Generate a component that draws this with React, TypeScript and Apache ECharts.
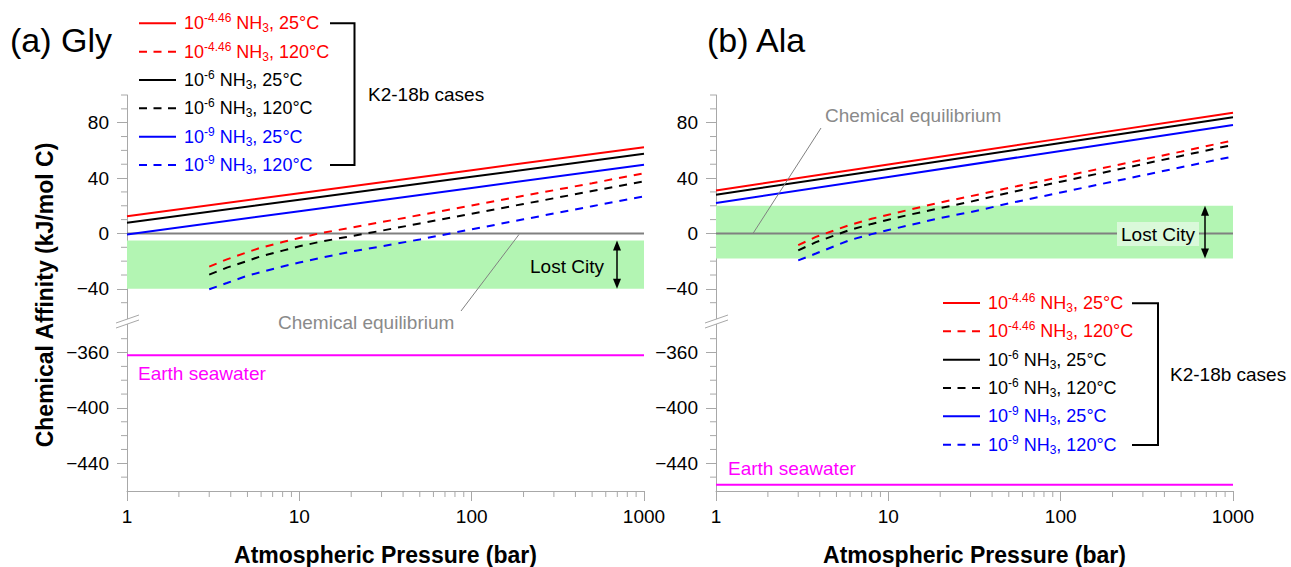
import React, { useEffect, useRef } from "react";
import * as echarts from "echarts";

// ---------- data ----------
const pressuresSolid = [1, 10, 100, 1000];
const pressuresHot = [3, 3.8, 5, 6, 8, 10, 13, 20, 30, 50, 100, 200, 500, 1000];

const glyRed25 = [12.4, 29.0, 45.7, 62.3];
const glyBlack25 = [7.7, 24.3, 40.9, 57.5];
const glyBlue25 = [-0.7, 16.1, 32.9, 49.6];
const glyRed120 = [-24, -18.7, -13.5, -10.2, -6.2, -3.3, 0, 4.2, 8.2, 13.3, 20.2, 27.2, 36.3, 43.5];
const glyBlack120 = [-29.7, -24.7, -19.8, -16.4, -12.4, -9.3, -6.2, -1.9, 2.0, 7.2, 14.3, 21.3, 30.6, 37.6];
const glyBlue120 = [-40.3, -35.8, -30.5, -27.9, -23.8, -21, -17.9, -13.1, -9.3, -4.3, 3, 10.2, 19.7, 26.8];

const alaRed25 = [31.1, 49.8, 68.5, 87.2];
const alaBlack25 = [28, 46.6, 65.3, 83.9];
const alaBlue25 = [22, 40.8, 59.6, 78.4];
const alaRed120 = [-8.4, -2.5, 2.8, 6.2, 10.6, 13.5, 16.9, 22.4, 26.9, 32.9, 40.8, 48.7, 59.1, 67.2];
const alaBlack120 = [-12.2, -6.3, -0.9, 2.6, 6.9, 9.9, 13.3, 18.3, 22.9, 29.4, 37.4, 45.4, 56, 64];
const alaBlue120 = [-19.4, -14.5, -8.6, -4.7, -0.5, 2.5, 5.7, 11.2, 15.4, 21.7, 29.6, 37.4, 47.8, 55.6];

const lostCityGly = [-5, -40];
const lostCityAla = [20, -18];
const seawaterGly = -362;
const seawaterAla = -455.5;
const equilibrium = 0;

const yMajorTicks = [80, 40, 0, -40, -360, -400, -440];
const yMinorTicks = [100, 90, 70, 60, 50, 30, 20, 10, -10, -20, -30, -50, -350, -370, -380, -390, -410, -420, -430, -450];
const xMinorTicks = [2, 3, 4, 5, 6, 7, 8, 9, 20, 30, 40, 50, 60, 70, 80, 90, 200, 300, 400, 500, 600, 700, 800, 900];

const legendNames = ["r25", "r120", "k25", "k120", "b25", "b120"];
const legendExp = ["-4.46", "-4.46", "-6", "-6", "-9", "-9"];
const legendTemp = ["25°C", "120°C", "25°C", "120°C", "25°C", "120°C"];

// ---------- styling / layout ----------
const FONT = "'Liberation Sans', Arial, Helvetica, sans-serif";
const AXIS = "#a8a8a8";
const RED = "#ff0000";
const BLACK = "#000000";
const BLUE = "#0000ff";
const MAGENTA = "#ff00ff";
const GRAY = "#808080";
const GREEN = "#b3f5b3";
const DASH = [8, 7];
const LEGEND_DASH = [8, 6.5];

const BREAK_OFFSET = 274;
const toPlot = (v: number) => (v < -200 ? v + BREAK_OFFSET : v);
const fromPlot = (p: number) => (p < -63 ? p - BREAK_OFFSET : p);
const fmtY = (p: number) => {
  const r = Math.round(fromPlot(p));
  return r < 0 ? "\u2212" + Math.abs(r) : String(r);
};
const Y_MIN = toPlot(-460);
const Y_MAX = 100;

const grids = [
  { left: 127, top: 95, width: 517, height: 396 },
  { left: 716, top: 95, width: 517, height: 396 },
];
const py = (gi: number, v: number) =>
  grids[gi].top + ((Y_MAX - toPlot(v)) * grids[gi].height) / (Y_MAX - Y_MIN);
const px = (gi: number, p: number) => grids[gi].left + (grids[gi].width * Math.log10(p)) / 3;

function makeLine(name: string, xs: number[], ys: number[], color: string, dashed: boolean, gi: number) {
  return {
    type: "line",
    name,
    xAxisIndex: gi,
    yAxisIndex: gi,
    data: xs.map((x, i) => [x, toPlot(ys[i])]),
    showSymbol: false,
    symbol: "none",
    smooth: false,
    lineStyle: { color, width: 2, type: dashed ? DASH : "solid" },
    itemStyle: { color },
    silent: true,
    z: 3,
  };
}

function panelSeries(gi: number, sets: number[][], lost: number[], sea: number) {
  const colors = [RED, RED, BLACK, BLACK, BLUE, BLUE];
  return [
    {
      type: "line",
      name: "equilibrium" + gi,
      xAxisIndex: gi,
      yAxisIndex: gi,
      data: [[1, equilibrium], [1000, equilibrium]],
      showSymbol: false,
      symbol: "none",
      lineStyle: { color: GRAY, width: 2 },
      silent: true,
      z: 2,
      markArea: {
        silent: true,
        itemStyle: { color: GREEN },
        data: [[{ coord: [1, lost[0]] }, { coord: [1000, lost[1]] }]],
      },
    },
    {
      type: "line",
      name: "seawater" + gi,
      xAxisIndex: gi,
      yAxisIndex: gi,
      data: [[1, toPlot(sea)], [1000, toPlot(sea)]],
      showSymbol: false,
      symbol: "none",
      lineStyle: { color: MAGENTA, width: 2 },
      silent: true,
      z: 2,
    },
    ...legendNames.map((n, i) =>
      makeLine(n, i % 2 === 0 ? pressuresSolid : pressuresHot, sets[i], colors[i], i % 2 === 1, gi)
    ),
  ];
}

function xAxis(gi: number) {
  return {
    type: "log",
    logBase: 10,
    gridIndex: gi,
    min: 1,
    max: 1000,
    position: "bottom",
    axisLine: { show: true, onZero: false, lineStyle: { color: AXIS, width: 1 } },
    axisTick: { show: true, length: 10, lineStyle: { color: AXIS } },
    axisLabel: {
      margin: 16,
      fontSize: 19,
      fontFamily: FONT,
      color: "#000",
      formatter: (v: number) => String(Math.round(v)),
    },
    splitLine: { show: false },
    minorTick: { show: false },
  };
}

function yAxis(gi: number) {
  return {
    type: "value",
    gridIndex: gi,
    min: Y_MIN,
    max: Y_MAX,
    position: "left",
    axisLine: { show: true, onZero: false, lineStyle: { color: AXIS, width: 1 } },
    axisTick: { show: true, length: 10, lineStyle: { color: AXIS }, customValues: yMajorTicks.map(toPlot) },
    axisLabel: {
      margin: 18,
      fontSize: 19,
      fontFamily: FONT,
      color: "#000",
      customValues: yMajorTicks.map(toPlot),
      formatter: fmtY,
    },
    splitLine: { show: false },
  };
}

function makeLegend(left: number, top: number) {
  const colors = [RED, RED, BLACK, BLACK, BLUE, BLUE];
  return {
    orient: "vertical",
    left,
    top,
    padding: 0,
    itemWidth: 37,
    itemHeight: 14,
    itemGap: 6.34,
    selectedMode: false,
    itemStyle: { opacity: 0, color: "rgba(0,0,0,0)", borderWidth: 0 },
    data: legendNames.map((n, i) => ({
      name: n,
      textStyle: { color: colors[i] },
      lineStyle: { type: i % 2 === 1 ? LEGEND_DASH : "solid", width: 2, color: colors[i] },
    })),
    formatter: (name: string) => {
      const i = legendNames.indexOf(name);
      return `{n|10}{sup|${legendExp[i]}}{n| NH}{sub|3}{n|, ${legendTemp[i]}}`;
    },
    textStyle: {
      fontFamily: FONT,
      fontSize: 18,
      lineHeight: 22,
      padding: [0, 0, 0, 3],
      rich: {
        n: { fontFamily: FONT, fontSize: 18, lineHeight: 22 },
        sup: { fontFamily: FONT, fontSize: 12, lineHeight: 14, verticalAlign: "top" },
        sub: { fontFamily: FONT, fontSize: 12, lineHeight: 10, verticalAlign: "bottom" },
      },
    },
  };
}

function txt(text: string, x: number, y: number, opts: any = {}) {
  return {
    type: "text",
    x,
    y,
    z: 20,
    rotation: opts.rotation || 0,
    style: {
      text,
      fill: opts.fill || "#000",
      fontSize: opts.fontSize || 19,
      fontWeight: opts.fontWeight || "normal",
      fontFamily: FONT,
      align: opts.align || "left",
      verticalAlign: "middle",
    },
  };
}

function seg(x1: number, y1: number, x2: number, y2: number, stroke: string, lineWidth = 1, z = 20) {
  return { type: "line", z, silent: true, shape: { x1, y1, x2, y2 }, style: { stroke, lineWidth } };
}

function arrow(x: number, y1: number, y2: number) {
  return [
    seg(x, y1 + 6, x, y2 - 6, "#000", 1.5),
    { type: "polygon", z: 20, shape: { points: [[x, y1], [x - 4, y1 + 10], [x + 4, y1 + 10]] }, style: { fill: "#000" } },
    { type: "polygon", z: 20, shape: { points: [[x, y2], [x - 4, y2 - 10], [x + 4, y2 - 10]] }, style: { fill: "#000" } },
  ];
}

function breakMark(x0: number) {
  const a = [x0 - 11, 323], b = [x0 + 12, 315], c = [x0 + 12, 320], d = [x0 - 11, 328];
  return [
    { type: "polygon", z: 20, shape: { points: [a, b, c, d] }, style: { fill: "#fff" } },
    seg(a[0], a[1], b[0], b[1], AXIS, 1, 21),
    seg(d[0], d[1], c[0], c[1], AXIS, 1, 21),
  ];
}

function minorTicks(gi: number) {
  const g = grids[gi];
  const yb = g.top + g.height;
  return [
    ...yMinorTicks.map((v) => seg(g.left - 6, py(gi, v), g.left, py(gi, v), AXIS, 1, 5)),
    ...xMinorTicks.map((p) => seg(px(gi, p), yb, px(gi, p), yb + 6, AXIS, 1, 5)),
  ];
}

function bracket(x1: number, x2: number, y1: number, y2: number) {
  return {
    type: "polyline",
    z: 20,
    shape: { points: [[x1, y1], [x2, y1], [x2, y2], [x1, y2]] },
    style: { stroke: "#000", lineWidth: 2, fill: null },
  };
}

const graphics: any[] = [
  txt("(a) Gly", 10, 40, { fontSize: 34 }),
  txt("(b) Ala", 707, 40, { fontSize: 34 }),
  txt("Chemical Affinity (kJ/mol C)", 45, 295, { fontSize: 23, fontWeight: "bold", align: "center", rotation: Math.PI / 2 }),
  txt("Atmospheric Pressure (bar)", grids[0].left + grids[0].width / 2, 555, { fontSize: 23, fontWeight: "bold", align: "center" }),
  txt("Atmospheric Pressure (bar)", grids[1].left + grids[1].width / 2, 555, { fontSize: 23, fontWeight: "bold", align: "center" }),
  ...minorTicks(0),
  ...minorTicks(1),
  // legend brackets
  bracket(330, 354.5, 23.3, 165),
  txt("K2-18b cases", 368, 94),
  bracket(1132, 1158, 303.3, 445),
  txt("K2-18b cases", 1170, 374),
  // Lost City
  txt("Lost City", 530, 266),
  ...arrow(617, py(0, lostCityGly[0]), py(0, lostCityGly[1])),
  { type: "rect", z: 19, shape: { x: 1117, y: 222, width: 82, height: 24 }, style: { fill: "#daf9da" } },
  txt("Lost City", 1158, 234, { align: "center" }),
  ...arrow(1205, py(1, lostCityAla[0]), py(1, lostCityAla[1])),
  // chemical equilibrium annotations
  seg(519, py(0, 0) + 1, 461, 311, GRAY),
  txt("Chemical equilibrium", 278, 322, { fill: "#8a8a8a" }),
  seg(821, 128, 753, py(1, 0), GRAY),
  txt("Chemical equilibrium", 825, 115, { fill: "#8a8a8a" }),
  // seawater
  txt("Earth seawater", 138, 373, { fill: MAGENTA }),
  txt("Earth seawater", 728, 468, { fill: MAGENTA }),
  // axis breaks
  ...breakMark(grids[0].left),
  ...breakMark(grids[1].left),
];

const option: any = {
  animation: false,
  backgroundColor: "#ffffff",
  textStyle: { fontFamily: FONT },
  grid: grids.map((g) => ({ ...g, containLabel: false })),
  xAxis: [xAxis(0), xAxis(1)],
  yAxis: [yAxis(0), yAxis(1)],
  legend: [makeLegend(138, 12.3), makeLegend(942, 292)],
  series: [
    ...panelSeries(0, [glyRed25, glyRed120, glyBlack25, glyBlack120, glyBlue25, glyBlue120], lostCityGly, seawaterGly),
    ...panelSeries(1, [alaRed25, alaRed120, alaBlack25, alaBlack120, alaBlue25, alaBlue120], lostCityAla, seawaterAla),
  ],
  graphic: graphics,
};

export default function App() {
  const ref = useRef<HTMLDivElement>(null);
  useEffect(() => {
    document.body.style.margin = "0";
    if (!ref.current) return;
    const chart = echarts.init(ref.current, null, { renderer: "svg" });
    chart.setOption(option);
    return () => chart.dispose();
  }, []);
  return <div ref={ref} style={{ width: 1291, height: 567, position: "absolute", left: 0, top: 0 }} />;
}
